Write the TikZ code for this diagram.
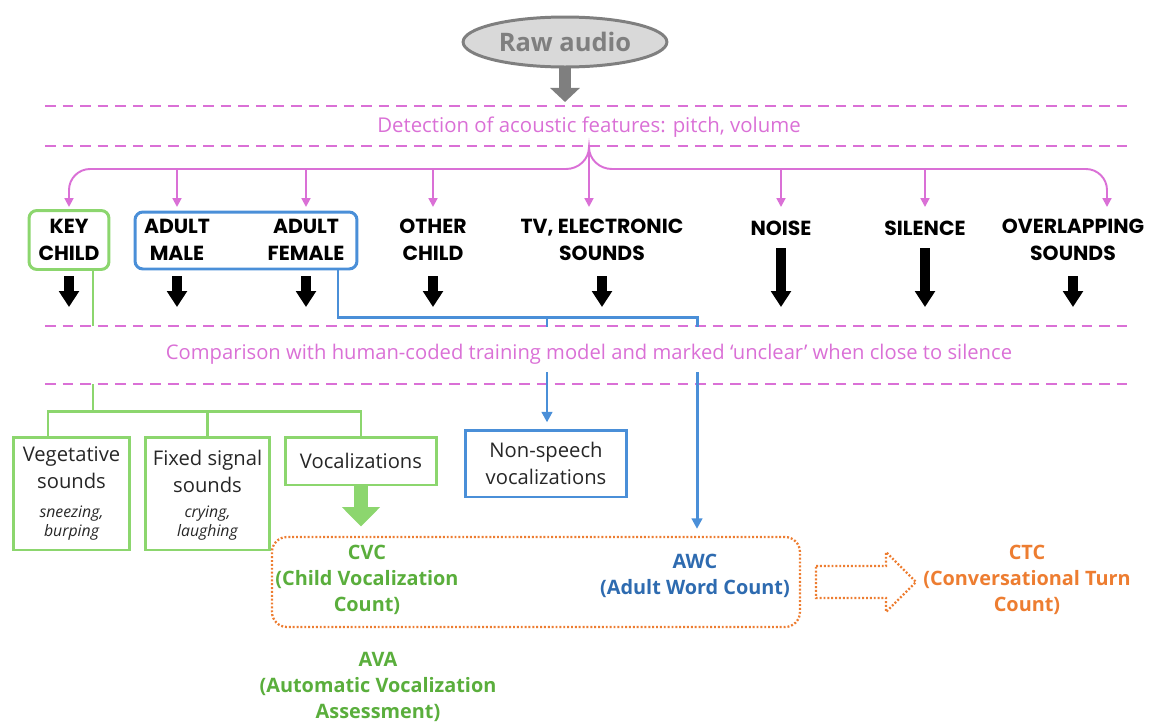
\documentclass[tikz,border=0pt]{standalone}
\usepackage{fontspec}
\setmainfont{Open Sans}
\newfontfamily\catfont{Poppins}
\usetikzlibrary{arrows.meta, shapes.geometric}

\definecolor{lenapink}{HTML}{DA70D6}
\definecolor{lenagreen}{HTML}{8CD66E}
\definecolor{lenadkgreen}{HTML}{5AAE3C}
\definecolor{lenablue}{HTML}{4A8FD8}
\definecolor{lenadkblue}{HTML}{2E6BB0}
\definecolor{lenaorange}{HTML}{ED7D31}
\definecolor{lenagray}{HTML}{7F7F7F}
\definecolor{lenatext}{HTML}{262626}

\begin{document}
\begin{tikzpicture}[x=0.02cm, y=-0.02cm,
    catlabel/.style={font=\catfont\bfseries\fontsize{11.6}{15.2}\selectfont, align=center, inner sep=0pt},
    pinkdash/.style={lenapink, line width=1.1pt, dash pattern=on 6pt off 4pt},
    pinkline/.style={lenapink, line width=1.1pt},
    pinkarrow/.style={pinkline, -{Triangle[width=5pt,length=5pt]}},
    bandtext/.style={text=lenapink, inner sep=0pt},
    blkarrow/.style={line width=5.7pt, -{Triangle[width=11pt,length=9pt]}},
    greenln/.style={lenagreen, line width=1.7pt},
    blueln/.style={lenablue, line width=1.7pt},
    bluearrow/.style={blueln, -{Triangle[width=6pt,length=6pt]}},
    subbox/.style={line width=1.7pt, inner sep=0pt},
    boxtext/.style={text=lenatext, align=center, inner sep=0pt, font=\fontsize{11.5}{15.3}\selectfont},
    note/.style={text=lenatext, align=center, inner sep=0pt, font=\itshape\fontsize{9}{10.8}\selectfont},
    result/.style={align=center, inner sep=0pt, font=\bfseries\fontsize{11.3}{14.9}\selectfont},
    dotbox/.style={draw=lenaorange, line width=1.3pt, dash pattern=on 1.1pt off 1.1pt}]
    \useasboundingbox (0,0) rectangle (1150,724);

    % Raw audio and the first band
    \node[ellipse, draw=lenagray, fill=black!15, line width=1.7pt, minimum width=3.8cm, minimum height=1cm,
        text=lenagray, font=\bfseries\fontsize{14.5}{16}\selectfont] (raw) at (565,42) {Raw audio};
    \coordinate (rawtip) at (0,102);
    \draw[lenagray, line width=6.8pt, -{Triangle[width=16.5pt,length=8pt]}] (raw.south) -- (raw.south |- rawtip);

    \foreach \y in {106,146,326,384}
        \draw[pinkdash] (45,\y) -- (1130,\y);
    \node[bandtext, font=\fontsize{11.6}{13}\selectfont] (det) at (589,127) {Detection of acoustic features: pitch, volume};

    % Sound categories
    \node[catlabel, draw=lenagreen, line width=1.7pt, rounded corners=4.5pt, minimum width=1.6cm, minimum height=1.18cm] (keychild) at (69,240) {KEY\\CHILD};
    \node[draw=lenablue, line width=1.7pt, rounded corners=4.5pt, minimum width=4.44cm, minimum height=1.14cm] (adultbox) at (246,240.5) {};
    \node[catlabel] (adultm) at (177,240) {ADULT\\MALE};
    \node[catlabel] (adultf) at (306,240) {ADULT\\FEMALE};
    \node[catlabel] (otherchild) at (433,240) {OTHER\\CHILD};
    \node[catlabel] (tv) at (602,240) {TV, ELECTRONIC\\SOUNDS};
    \node[catlabel] (noise) at (781,228) {NOISE};
    \node[catlabel] (silence) at (925,228) {SILENCE};
    \node[catlabel] (overlap) at (1073,240) {OVERLAPPING\\SOUNDS};

    % Pink brace
    \coordinate (brtop) at (589,147);
    \coordinate (pinkbar) at (0,169);
    \coordinate (pinkrow) at (0,207);
    \coordinate (ovlx) at (1107,0);
    \coordinate (brleft) at (566,169);
    \coordinate (brright) at (612,169);
    \draw[pinkarrow] (brtop) -- (brtop |- pinkrow);
    \draw[pinkline] (brleft) to[out=0,in=-90] (brtop) to[out=-90,in=180] (brright);
    \draw[pinkarrow, rounded corners=12pt] (brleft) -- (keychild |- pinkbar) -- (keychild |- pinkrow);
    \draw[pinkarrow, rounded corners=12pt] (brright) -- (ovlx |- pinkbar) -- (ovlx |- pinkrow);
    \foreach \n in {adultm, adultf, otherchild, noise, silence}
        \draw[pinkarrow] (\n |- pinkbar) -- (\n |- pinkrow);

    % Black arrows
    \coordinate (blktop) at (0,276);
    \coordinate (tallblk) at (0,248);
    \coordinate (blkbot) at (0,307);
    \foreach \n in {keychild, adultm, adultf, otherchild, tv, overlap}
        \draw[blkarrow] (\n |- blktop) -- (\n |- blkbot);
    \foreach \n in {noise, silence}
        \draw[blkarrow] (\n |- tallblk) -- (\n |- blkbot);

    % Second band
    \node[bandtext, font=\fontsize{11.5}{13}\selectfont] (cmp) at (589,354) {Comparison with human-coded training model and marked ‘unclear’ when close to silence};

    % Key child sounds
    \node[subbox, draw=lenagreen, minimum width=2.34cm, minimum height=2.26cm] (veg) at (71.5,493.5) {};
    \node[boxtext] (vegtext) at (71.5,468) {Vegetative\\sounds};
    \node[note] (vegnote) at (71.5,523) {sneezing,\\burping};
    \node[subbox, draw=lenagreen, minimum width=2.5cm, minimum height=2.26cm] (fixed) at (207.5,493.5) {};
    \node[boxtext] (fixedtext) at (207.5,471) {Fixed signal\\sounds};
    \node[note] (fixednote) at (207.5,523) {crying,\\laughing};
    \node[subbox, boxtext, draw=lenagreen, minimum width=3.04cm, minimum height=0.96cm] (voc) at (361,461) {Vocalizations};
    \node[subbox, boxtext, draw=lenablue, minimum width=3.24cm, minimum height=1.34cm] (nonsp) at (546,463.5) {Non-speech\\vocalizations};

    \coordinate (kcx) at (93,0);
    \coordinate (gsplit) at (93,411);
    \draw[greenln] (keychild.south -| kcx) -- (kcx |- 0,326);
    \draw[greenln] (kcx |- 0,384) -- (gsplit);
    \draw[greenln] (veg.north -| 48,0) |- (gsplit) -| (voc.north);
    \draw[greenln] (fixed.north) -- (fixed.north |- gsplit);

    % Adult lines
    \coordinate (nsx) at (547,317);
    \coordinate (awx) at (697,317);
    \draw[blueln] (adultbox.south -| 338,0) |- (awx) -- (awx |- 0,327);
    \draw[blueln] (nsx) -- (nsx |- 0,327);

    % Measures
    \node[dotbox, rounded corners=8.5pt, minimum width=10.56cm, minimum height=1.8cm] (outcome) at (536,582) {};
    \draw[bluearrow, shorten >=3.5pt] (nsx |- 0,372) -- (nonsp.north -| nsx);
    \draw[bluearrow, shorten >=4pt] (awx |- 0,372) -- (awx |- outcome.north);
    \draw[lenagreen, line width=8.5pt, -{Triangle[width=21pt,length=11pt]}] (voc.south) -- ++(0,40);

    \node[result, text=lenadkgreen] (cvc) at (367,580) {CVC\\(Child Vocalization\\Count)};
    \node[result, text=lenadkblue] (awc) at (695,576) {AWC\\(Adult Word Count)};
    \node[result, text=lenaorange] (ctc) at (1027,580) {CTC\\(Conversational Turn\\Count)};
    \node[result, text=lenadkgreen] (ava) at (378,687) {AVA\\(Automatic Vocalization\\Assessment)};

    \draw[dotbox] (outcome.east) ++(15,-16) -- ++(70,0) -- ++(0,-14) -- ++(30,30) -- ++(-30,30) -- ++(0,-14) -- ++(-70,0) -- cycle;
\end{tikzpicture}
\end{document}
